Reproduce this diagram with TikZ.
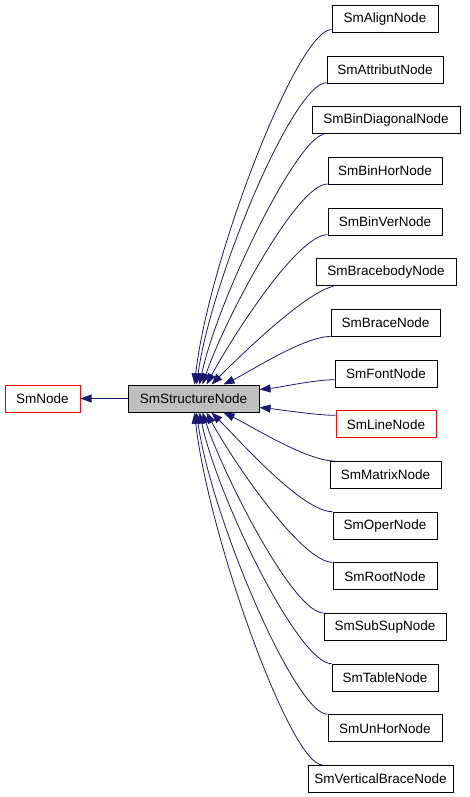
\documentclass[tikz,border=0pt]{standalone}
\usepackage{fontspec}
\setmainfont{Liberation Sans}
\usetikzlibrary{arrows.meta,calc}
\definecolor{edgeblue}{HTML}{191970}
\definecolor{structgray}{HTML}{BFBFBF}
\tikzset{
  box/.style={draw=black, line width=1pt, fill=white, minimum height=27pt, inner sep=0pt, font=\fontsize{13.5}{16}\selectfont},
  redbox/.style={box, draw=red},
  edge/.style={draw=edgeblue, line width=0.8pt, -{Triangle[length=11pt,width=8pt]}, fill=none},
}
\begin{document}
\begin{tikzpicture}[x=1pt,y=-1pt]
\useasboundingbox (0,0) rectangle (469,797);
% main nodes
\node[redbox, minimum width=75pt] (base) at (42.5,398.5) {SmNode};
\node[box, fill=structgray, minimum width=131pt] (s) at (193.5,398.5) {SmStructureNode};
% children
\node[box, minimum width=106pt] (c0) at (385,19) {SmAlignNode};
\node[box, minimum width=116pt] (c1) at (385,69.7) {SmAttributNode};
\node[box, minimum width=148pt] (c2) at (386,120.3) {SmBinDiagonalNode};
\node[box, minimum width=114pt] (c3) at (385,171) {SmBinHorNode};
\node[box, minimum width=114pt] (c4) at (385,221.7) {SmBinVerNode};
\node[box, minimum width=140pt] (c5) at (386,272.3) {SmBracebodyNode};
\node[box, minimum width=109pt] (c6) at (385.5,323) {SmBraceNode};
\node[box, minimum width=102pt] (c7) at (386,373.7) {SmFontNode};
\node[redbox, minimum width=100pt] (c8) at (386,424.3) {SmLineNode};
\node[box, minimum width=111pt] (c9) at (385.5,475) {SmMatrixNode};
\node[box, minimum width=104pt] (c10) at (385,525.7) {SmOperNode};
\node[box, minimum width=104pt] (c11) at (385,576.3) {SmRootNode};
\node[box, minimum width=122pt] (c12) at (385,627) {SmSubSupNode};
\node[box, minimum width=106pt] (c13) at (385,677.7) {SmTableNode};
\node[box, minimum width=114pt] (c14) at (385,728.3) {SmUnHorNode};
\node[box, minimum width=145pt] (c15) at (380.5,779) {SmVerticalBraceNode};
% edges
\draw[edge] (s.west) -- (base.east);
\draw[edge] ([yshift=3.5pt]c0.south west) .. controls +(-34,0) and +(14,-125) .. ([xshift=67pt]s.north west);
\draw[edge] ([yshift=1pt]c1.south west) .. controls +(-33,0) and +(15,-106) .. ([xshift=69pt]s.north west);
\draw[edge] ([xshift=12pt]c2.south west) .. controls +(-28,6) and +(18,-85) .. ([xshift=72pt]s.north west);
\draw[edge] ([yshift=1pt]c3.south west) .. controls +(-31,0) and +(22,-65) .. ([xshift=75pt]s.north west);
\draw[edge] ([yshift=1pt]c4.south west) .. controls +(-30,0) and +(26,-48) .. ([xshift=79pt]s.north west);
\draw[edge] ([xshift=18pt]c5.south west) .. controls +(-28,6) and +(30,-30) .. ([xshift=84pt]s.north west);
\draw[edge] ([yshift=0.5pt]c6.south west) .. controls +(-27,0) and +(25,-12) .. ([xshift=96pt]s.north west);
\draw[edge] ([yshift=-6pt]c7.west) .. controls +(-20,0) and +(20,-2) .. ([yshift=9pt]s.east);
\draw[edge] ([yshift=9pt]c8.west) .. controls +(-20,0) and +(20,2) .. ([yshift=-9pt]s.east);
\draw[edge] ([xshift=5pt]c9.north west) .. controls +(-28,0) and +(25,12) .. ([xshift=96pt]s.south west);
\draw[edge] (c10.north west) .. controls +(-30,0) and +(30,30) .. ([xshift=84pt]s.south west);
\draw[edge] (c11.north west) .. controls +(-31,0) and +(26,48) .. ([xshift=79pt]s.south west);
\draw[edge] (c12.north west) .. controls +(-30,0) and +(22,65) .. ([xshift=75pt]s.south west);
\draw[edge] (c13.north west) .. controls +(-33,0) and +(18,85) .. ([xshift=72pt]s.south west);
\draw[edge] (c14.north west) .. controls +(-32,0) and +(15,106) .. ([xshift=69pt]s.south west);
\draw[edge] ([xshift=15pt]c15.north west) .. controls +(-32,0) and +(14,124) .. ([xshift=67pt]s.south west);
\end{tikzpicture}
\end{document}
